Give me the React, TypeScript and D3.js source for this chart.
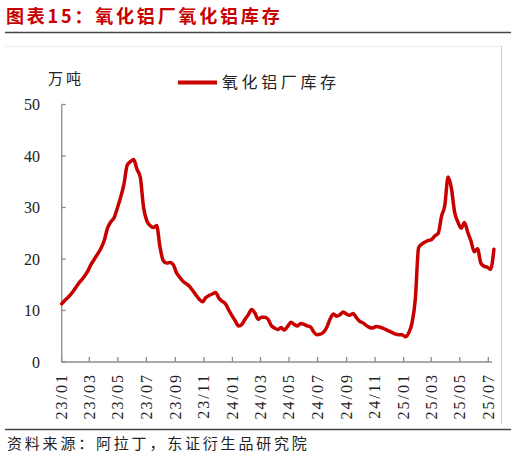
import React from 'react';
import * as d3 from 'd3';

// weekly inventory, 10k tonnes, first week starts 2023-01-01
const firstWeek = Date.UTC(2023, 0, 1);

const inventory2023 = [
  11.3, 12.0, 12.6, 13.3, 14.2, 15.1, 15.9, 16.7, 17.7, 19.0, 20.0, 21.0, 22.1,
  23.6, 26.0, 27.2, 28.0, 29.9, 32.0, 34.5, 38.2, 38.9, 39.3, 37.4, 35.9, 30.0,
  27.4, 26.5, 26.1, 26.5, 22.4, 19.7, 19.2, 19.3, 19.0, 17.4, 16.5, 15.7, 15.2,
  14.7, 13.9, 13.0, 12.2, 11.7, 12.5, 12.9, 13.2, 13.5, 12.4, 11.8, 11.3, 10.1,
];
const inventory2024 = [
  9.0, 8.0, 7.0, 7.3, 8.3, 9.2, 10.2, 9.5, 8.3, 8.7, 8.7, 8.3, 7.1, 6.6, 6.3,
  6.7, 6.2, 6.9, 7.7, 7.3, 7.0, 7.5, 7.3, 7.0, 6.8, 5.8, 5.3, 5.4, 5.8, 6.8, 8.4,
  9.3, 8.9, 9.2, 9.7, 9.3, 9.1, 9.4, 8.6, 7.9, 7.6, 7.1, 6.7, 6.6, 6.9, 6.8, 6.6,
  6.3, 6.0, 5.7, 5.4, 5.3,
];
const inventory2025 = [
  5.3, 4.9, 5.7, 7.6, 12.2, 22.2, 22.9, 23.3, 23.6, 23.8, 24.5, 25.0, 28.3, 30.4,
  35.9, 33.8, 29.1, 27.2, 26.0, 27.1, 25.2, 23.5, 21.4, 22.0, 19.2, 18.6, 18.4,
  18.0, 21.9,
];

const yTicks = [0, 10, 20, 30, 40, 50];
const xTickMonths = [
  '2023-01', '2023-03', '2023-05', '2023-07', '2023-09', '2023-11',
  '2024-01', '2024-03', '2024-05', '2024-07', '2024-09', '2024-11',
  '2025-01', '2025-03', '2025-05', '2025-07',
];

const title = '图表15：氧化铝厂氧化铝库存';
const seriesName = '氧化铝厂库存';
const unit = '万吨';
const source = '资料来源：阿拉丁，东证衍生品研究院';

const RED = '#c80000';
const CJK = '"Noto Sans CJK SC", sans-serif';
const NUM = '"Liberation Serif", "Times New Roman", serif';

const App: React.FC = () => {
  const width = 516;
  const height = 459;

  const values = [...inventory2023, ...inventory2024, ...inventory2025];
  const data = values.map((v, i) => ({
    date: new Date(firstWeek + i * 7 * 86400000),
    value: v,
  }));

  const parse = d3.utcParse('%Y-%m');
  const fmt = d3.utcFormat('%y/%m');
  const tickDates = xTickMonths.map(m => parse(m) as Date);

  const x = d3.scaleUtc()
    .domain([tickDates[0], tickDates[tickDates.length - 1]])
    .range([61.7, 488.3]);
  const y = d3.scaleLinear().domain([0, 50]).range([362, 104.5]);

  const line = d3.line<{ date: Date; value: number }>()
    .x(d => x(d.date))
    .y(d => y(d.value))
    .curve(d3.curveMonotoneX);

  const x0 = x(tickDates[0]);
  const xEnd = 492;

  return (
    <svg
      width={width}
      height={height}
      style={{ position: 'absolute', left: 0, top: 0, background: '#fff' }}
    >
      {/* header */}
      <text x={6} y={23} fill={RED} fontFamily={CJK} fontSize={18} fontWeight="bold" letterSpacing={2.8}>
        {title}
      </text>
      <line x1={5} x2={511} y1={32.5} y2={32.5} stroke="#444" strokeWidth={1.5} />

      {/* chart frame */}
      <line x1={5} x2={501} y1={46.5} y2={46.5} stroke="#eeeeee" strokeWidth={1} />
      <line x1={501.5} x2={501.5} y1={46} y2={424} stroke="#c8c8c8" strokeWidth={1} />

      {/* unit and legend */}
      <text x={48} y={84} fontFamily={CJK} fontSize={15} letterSpacing={3} fill="#222">
        {unit}
      </text>
      <line x1={178} x2={217} y1={82.5} y2={82.5} stroke={RED} strokeWidth={4} />
      <text x={222} y={88} fontFamily={CJK} fontSize={16} letterSpacing={3.6} fill="#222">
        {seriesName}
      </text>

      {/* y axis */}
      <line x1={x0} x2={x0} y1={y(50)} y2={y(0)} stroke="#8c8c8c" strokeWidth={1.3} />
      {yTicks.map(t => (
        <g key={t} transform={`translate(0,${y(t)})`}>
          <line x1={x0} x2={x0 + 4} stroke="#8c8c8c" strokeWidth={1.3} />
          <text x={40} dy="0.35em" textAnchor="end" fontFamily={NUM} fontSize={16} fill="#222">
            {t}
          </text>
        </g>
      ))}

      {/* x axis */}
      <line x1={x0} x2={xEnd} y1={y(0)} y2={y(0)} stroke="#8c8c8c" strokeWidth={1.3} />
      {tickDates.map(d => (
        <g key={d.toISOString()} transform={`translate(${x(d)},0)`}>
          <line y1={y(0)} y2={y(0) - 5} stroke="#8c8c8c" strokeWidth={1.3} />
          <text
            transform={`translate(0,373) rotate(-90)`}
            textAnchor="end"
            dy="0.33em"
            fontFamily={NUM}
            fontSize={16}
            letterSpacing={2}
            fill="#222"
          >
            {fmt(d)}
          </text>
        </g>
      ))}

      {/* series */}
      <path
        d={line(data) || ''}
        fill="none"
        stroke={RED}
        strokeWidth={3.5}
        strokeLinejoin="round"
        strokeLinecap="round"
      />

      {/* footer */}
      <line x1={5} x2={511} y1={429.5} y2={429.5} stroke="#444" strokeWidth={1.5} />
      <text x={7} y={449} fontFamily={CJK} fontSize={15} letterSpacing={2.8} fill="#222">
        {source}
      </text>
    </svg>
  );
};

export default App;
